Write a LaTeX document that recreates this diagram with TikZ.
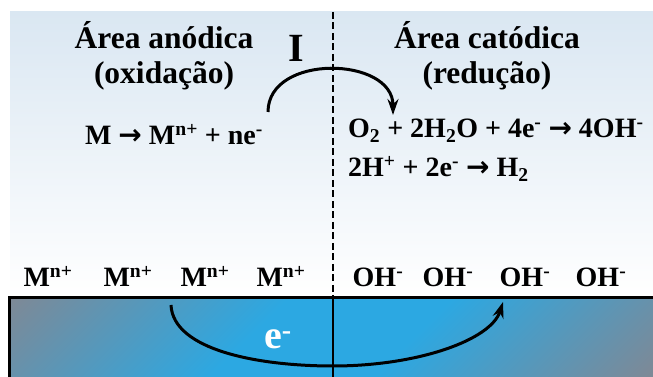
\documentclass[tikz,border=0pt]{standalone}
\usepackage{fontspec}
\setmainfont{Liberation Serif}
\newfontfamily\setafonte{DejaVu Sans}
\usetikzlibrary{arrows.meta, positioning}

\definecolor{fundo}{RGB}{218,231,242}
\definecolor{metalcinza}{RGB}{128,136,148}
\definecolor{metalazul}{RGB}{44,168,226}

\pgfdeclareverticalshading{metal}{100bp}{color(0bp)=(metalcinza); color(14bp)=(metalcinza);
    color(42bp)=(metalazul); color(58bp)=(metalazul); color(86bp)=(metalcinza); color(100bp)=(metalcinza)}

\newcommand{\reage}{{\setafonte\bfseries →}}

\begin{document}
\begin{tikzpicture}[
        x=1pt, y=1pt,
        titulo/.style={align=center, inner sep=0pt, font=\bfseries\fontsize{31.5}{35}\selectfont},
        equacao/.style={inner sep=0pt, font=\bfseries\fontsize{28}{39}\selectfont},
        ion/.style={inner sep=0pt, font=\bfseries\fontsize{28}{30}\selectfont},
        seta/.style={line width=3pt, -{Stealth[length=16pt, width=11pt]}}
    ]
    \useasboundingbox (0,0) rectangle (653,377);

    % solucao
    \shade[top color=fundo, bottom color=white] (10,79) rectangle (653,365);

    % metal
    \shade[shading=metal, shading angle=45] (9,0) rectangle (653,79);
    \draw[line width=3pt] (9,-2) |- (655,79);

    % interface anodo / catodo
    \draw[line width=2.6pt, dash pattern=on 7pt off 3.5pt] (333,365) -- (333,79);
    \draw[line width=2.2pt] (333,79) -- (333,0);

    % Area anodica
    \node[titulo] (anodo) at (164,321) {Área anódica\\(oxidação)};
    \node[equacao, anchor=base] (oxid) at (174,232) {M \reage{} M\textsuperscript{n+} + ne\textsuperscript{-}};

    % Area catodica
    \node[titulo] (catodo) at (487,321) {Área catódica\\(redução)};
    \node[equacao, anchor=base west] (red1) at (348,239) {O\textsubscript{2} + 2H\textsubscript{2}O + 4e\textsuperscript{-} \reage{} 4OH\textsuperscript{-}};
    \node[equacao, anchor=base west] (red2) at (348,200) {2H\textsuperscript{+} + 2e\textsuperscript{-} \reage{} H\textsubscript{2}};

    % ions na interface
    \foreach \x [count=\i] in {48,128,205,281}
        \node[ion, anchor=base] (m\i) at (\x,90) {M\textsuperscript{n+}};
    \foreach \x [count=\i] in {378,448,525,601}
        \node[ion, anchor=base] (oh\i) at (\x,90) {OH\textsuperscript{-}};

    % corrente I
    \node[inner sep=0pt, font=\bfseries\fontsize{40}{40}\selectfont] (corrente) at (296,329) {I};
    \coordinate (iIni) at (268,265);
    \coordinate (iFim) at (393,262);
    \draw[seta] (iIni) to[out=90, in=90, looseness=1.2] (iFim);

    % eletrons no metal
    \node[inner sep=0pt, text=white, font=\bfseries\fontsize{40}{40}\selectfont] (eletron) at (278,38) {e\textsuperscript{-}};
    \coordinate (eIni) at (171,72);
    \coordinate (eFundo) at (333,11);
    \coordinate (eFim) at (503,75);
    \draw[seta] (eIni) .. controls +(2,-45) and +(-75,0) .. (eFundo) .. controls +(85,0) and +(-12,-38) .. (eFim);

\end{tikzpicture}
\end{document}
